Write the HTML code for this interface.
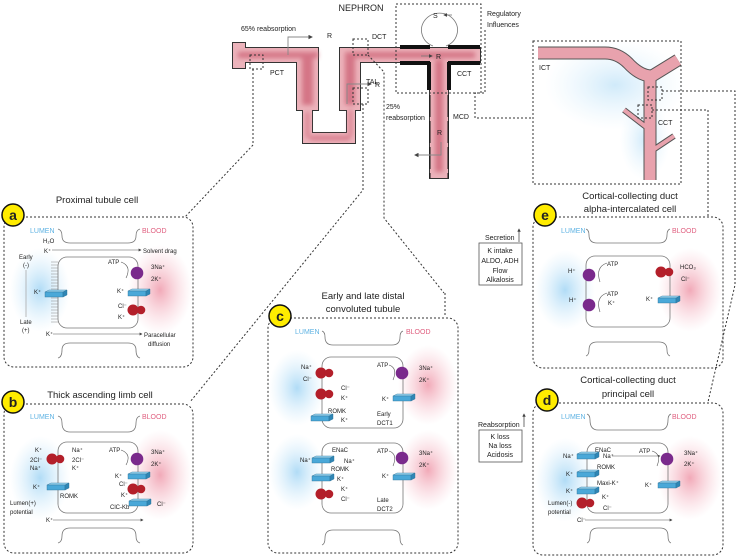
<!DOCTYPE html>
<html><head><meta charset="utf-8"><style>
html,body{margin:0;padding:0;background:#fff}
svg{display:block}
text{font-family:"Liberation Sans Narrow","Liberation Sans",sans-serif;fill:#222}
.s{font-size:6px}
.t{font-family:"Liberation Sans",sans-serif;font-size:9.5px}
.lu{font-size:7px;fill:#5fb3e3}
.bl{font-size:7px;fill:#e06080}
.d{fill:none;stroke:#333;stroke-width:1;stroke-dasharray:2 2}
.c{fill:none;stroke:#777;stroke-width:0.8}
.a{fill:none;stroke:#555;stroke-width:0.6}
</style></head><body>
<svg width="738" height="559" viewBox="0 0 738 559" xmlns="http://www.w3.org/2000/svg">
<defs>
<radialGradient id="gb"><stop offset="0" stop-color="#a8d8f5" stop-opacity="0.9"/><stop offset="1" stop-color="#cfeafb" stop-opacity="0"/></radialGradient>
<radialGradient id="gr"><stop offset="0" stop-color="#f0a0b0" stop-opacity="0.9"/><stop offset="1" stop-color="#f8c8d2" stop-opacity="0"/></radialGradient>
<filter id="bl" x="-50%" y="-50%" width="200%" height="200%"><feGaussianBlur stdDeviation="2.5"/></filter>
<g id="ch"><polygon points="0,2 18,2 22,0 4,0" fill="#9ad6f2" stroke="#2a6f96" stroke-width="0.4"/><rect x="0" y="2" width="18" height="5" fill="#4aa8d8" stroke="#2a6f96" stroke-width="0.4"/><polygon points="18,2 22,0 22,5 18,7" fill="#2f86b5" stroke="#2a6f96" stroke-width="0.4"/></g>
<g id="pu"><circle r="6.3" fill="#7a2a8c"/></g>
<g id="co"><circle cx="0" cy="0" r="5.5" fill="#b31f2a"/><circle cx="8" cy="0" r="4.3" fill="#b31f2a"/></g>
<marker id="ar" markerWidth="5" markerHeight="5" refX="4" refY="2.5" orient="auto"><path d="M0,0 L5,2.5 L0,5z" fill="#444"/></marker>
</defs>

<!-- ===== NEPHRON ===== -->
<text x="361" y="11" class="t" text-anchor="middle" style="font-size:9px">NEPHRON</text>
<g stroke="#333" stroke-width="2" fill="#ecb3bb">
<rect x="233" y="43" width="12" height="25"/><rect x="245" y="48" width="73" height="14"/>
<rect x="297" y="48" width="21" height="62"/><rect x="303" y="110" width="9" height="33"/>
<rect x="303" y="133" width="52" height="10"/><rect x="347" y="105" width="8" height="38"/>
<rect x="340" y="48" width="20" height="62"/><rect x="340" y="48" width="140" height="14"/>
<rect x="430" y="48" width="18" height="130"/>
</g>
<g fill="#ecb3bb">
<rect x="233" y="43" width="12" height="25"/><rect x="245" y="48" width="73" height="14"/>
<rect x="297" y="48" width="21" height="62"/><rect x="303" y="110" width="9" height="33"/>
<rect x="303" y="133" width="52" height="10"/><rect x="347" y="105" width="8" height="38"/>
<rect x="340" y="48" width="20" height="62"/><rect x="340" y="48" width="140" height="14"/>
<rect x="430" y="48" width="18" height="130"/>
</g>
<g fill="#d06a7d" filter="url(#bl)" opacity="0.85">
<rect x="238" y="52" width="80" height="6"/><rect x="302" y="55" width="11" height="50"/>
<rect x="345" y="55" width="10" height="50"/><rect x="345" y="52" width="130" height="6"/>
<rect x="435" y="60" width="8" height="112"/><rect x="306" y="112" width="3" height="26"/><rect x="349" y="110" width="3" height="26"/><rect x="310" y="136" width="40" height="4"/>
</g>
<g fill="#111"><rect x="400" y="45" width="30" height="4"/><rect x="448" y="45" width="32" height="4"/><rect x="400" y="61" width="30" height="4"/><rect x="448" y="61" width="32" height="4"/><rect x="427" y="62" width="4" height="28"/><rect x="447" y="62" width="4" height="28"/></g>
<g stroke="#111" stroke-width="1" stroke-dasharray="22 4"><line x1="430" y1="95" x2="430" y2="178"/><line x1="448" y1="95" x2="448" y2="178"/></g>
<text x="241" y="31" class="s" style="font-size:7px">65% reabsorption</text>
<polyline points="288,55 288,37 312,37" fill="none" stroke="#888" stroke-width="0.9" marker-end="url(#ar)"/>
<text x="327" y="38" class="s" style="font-size:7px">R</text>
<text x="270" y="75" class="s" style="font-size:7px">PCT</text>
<text x="372" y="39" class="s" style="font-size:7px">DCT</text>
<text x="366" y="84" class="s" style="font-size:7px">TAL</text>
<polyline points="347,104 347,84 371,84" fill="none" stroke="#888" stroke-width="0.9" marker-end="url(#ar)"/>
<text x="375" y="87" class="s" style="font-size:7px">R</text>
<text x="386" y="109" class="s" style="font-size:7px">25%</text>
<text x="386" y="120" class="s" style="font-size:7px">reabsorption</text>
<text x="453" y="119" class="s" style="font-size:7px">MCD</text>
<text x="437" y="135" class="s" style="font-size:7px">R</text>
<polyline points="441,142 441,155 415,155" fill="none" stroke="#888" stroke-width="0.9" marker-end="url(#ar)"/>
<rect x="396" y="4" width="85" height="89" class="d"/>
<path d="M433,46 A18,17 0 1 1 446,46" fill="none" stroke="#777" stroke-width="0.8"/>
<line x1="452" y1="15" x2="444" y2="15" stroke="#777" stroke-width="0.8" marker-end="url(#ar)"/>
<text x="433" y="18" class="s" style="font-size:7px">S</text>
<line x1="421" y1="56" x2="432" y2="56" stroke="#777" stroke-width="0.8" marker-end="url(#ar)"/>
<text x="436" y="59" class="s" style="font-size:7px">R</text>
<text x="487" y="16" class="s" style="font-size:7px">Regulatory</text>
<text x="487" y="27" class="s" style="font-size:7px">Influences</text>
<text x="457" y="76" class="s" style="font-size:7px">CCT</text>
<rect x="250" y="55" width="13" height="14" class="d"/>
<rect x="353" y="39" width="15" height="16" class="d"/>
<rect x="353" y="88" width="15" height="16" class="d"/>
<polyline points="253,69 253,145 185,217" class="d"/>
<polyline points="368,55 384,72 384,218 444,293" class="d"/>
<polyline points="363,104 363,190 190,402" class="d"/>
<polyline points="485,30 485,93 475,93 475,118 533,118" class="d"/>

<!-- right nephron box -->
<rect x="533" y="41" width="148" height="143" class="d"/>
<ellipse cx="615" cy="85" rx="70" ry="45" fill="url(#gb)" opacity="0.6"/>
<ellipse cx="645" cy="140" rx="25" ry="40" fill="url(#gb)" opacity="0.6"/>
<g fill="none" stroke-linecap="butt">
<path d="M538,53 L605,53 Q618,53 628,63 Q640,76 652,76 L678,60" stroke="#555" stroke-width="13"/>
<path d="M650,76 L650,180" stroke="#555" stroke-width="13"/>
<path d="M624,110 L650,130 M674,136 L650,152" stroke="#555" stroke-width="6"/>
<path d="M538,53 L605,53 Q618,53 628,63 Q640,76 652,76 L678,60" stroke="#e8a2ad" stroke-width="11"/>
<path d="M650,76 L650,180" stroke="#e8a2ad" stroke-width="11"/>
<path d="M624,110 L650,130 M674,136 L650,152" stroke="#e8a2ad" stroke-width="4"/>
</g>
<text x="539" y="70" class="s" style="font-size:7px">ICT</text>
<text x="658" y="125" class="s" style="font-size:7px">CCT</text>
<rect x="648" y="87" width="14" height="13" class="d"/>
<rect x="638" y="105" width="14" height="13" class="d"/>
<polyline points="662,91 735,91 735,285 708,402" class="d"/>
<polyline points="652,110 708,110 708,217" class="d"/>

<!-- Secretion / Reabsorption -->
<text x="485" y="240" class="s" style="font-size:7px">Secretion</text>
<line x1="519" y1="242" x2="519" y2="229" stroke="#333" stroke-width="0.7" marker-end="url(#ar)"/>
<rect x="479" y="243" width="43" height="42" fill="#fff" stroke="#555" stroke-width="0.8"/>
<g class="s" style="font-size:7px" text-anchor="middle"><text x="500" y="253">K intake</text><text x="500" y="263">ALDO, ADH</text><text x="500" y="273">Flow</text><text x="500" y="282">Alkalosis</text></g>
<text x="478" y="427" class="s" style="font-size:7px">Reabsorption</text>
<line x1="524" y1="427" x2="524" y2="414" stroke="#333" stroke-width="0.7" marker-end="url(#ar)"/>
<rect x="479" y="430" width="43" height="32" fill="#fff" stroke="#555" stroke-width="0.8"/>
<g class="s" style="font-size:7px" text-anchor="middle"><text x="500" y="439">K loss</text><text x="500" y="448">Na loss</text><text x="500" y="457">Acidosis</text></g>

<!-- ===== PANEL A ===== -->
<text x="97" y="203" class="t" text-anchor="middle">Proximal tubule cell</text>
<rect x="4" y="217" width="189" height="150" rx="10" class="d"/>
<ellipse cx="40" cy="290" rx="30" ry="42" fill="url(#gb)"/>
<ellipse cx="160" cy="290" rx="32" ry="45" fill="url(#gr)"/>
<text x="30" y="233" class="lu">LUMEN</text><text x="142" y="233" class="bl">BLOOD</text>
<path d="M58,229 Q62,230 62,236 Q62,243 70,243 L128,243 Q136,243 136,236 Q136,230 140,229" class="c"/>
<rect x="58" y="257" width="80" height="71" rx="9" class="c" fill="#fff"/>
<path d="M58,358 Q62,357 62,350 Q62,343 70,343 L128,343 Q136,343 136,350 Q136,357 140,358" class="c"/>
<g stroke="#888" stroke-width="0.6"><path d="M51,262h7M51,265h7M51,268h7M51,271h7M51,274h7M51,277h7M51,280h7M51,283h7M51,286h7M51,289h7M51,292h7M51,295h7M51,298h7M51,301h7M51,304h7M51,307h7M51,310h7M51,313h7M51,316h7M51,319h7M51,322h7"/></g>
<text x="43" y="243" class="s">H₂O</text><text x="44" y="253" class="s">K⁺</text>
<line x1="52" y1="250" x2="141" y2="250" stroke="#555" stroke-width="0.6" marker-end="url(#ar)"/>
<text x="143" y="253" class="s">Solvent drag</text>
<text x="19" y="259" class="s">Early</text><text x="23" y="267" class="s">(-)</text>
<line x1="26" y1="270" x2="26" y2="317" stroke="#aaa" stroke-width="0.8"/>
<text x="20" y="324" class="s">Late</text><text x="22" y="332" class="s">(+)</text>
<text x="34" y="294" class="s">K⁺</text><use href="#ch" x="45" y="290"/>
<text x="108" y="264" class="s">ATP</text><use href="#pu" x="137" y="273"/>
<path d="M121,262 Q132,266 126,278" class="a"/>
<text x="151" y="269" class="s">3Na⁺</text><text x="151" y="281" class="s">2K⁺</text>
<text x="117" y="293" class="s">K⁺</text><use href="#ch" x="128" y="289"/>
<text x="118" y="308" class="s">Cl⁻</text><text x="118" y="319" class="s">K⁺</text><use href="#co" x="133" y="310"/>
<text x="46" y="336" class="s">K⁺</text>
<line x1="53" y1="334" x2="142" y2="334" stroke="#555" stroke-width="0.6" marker-end="url(#ar)"/>
<text x="144" y="337" class="s">Paracellular</text><text x="148" y="346" class="s">diffusion</text>
<circle cx="13" cy="215" r="11" fill="#ffec00" stroke="#111" stroke-width="1.5"/>
<text x="13" y="220" text-anchor="middle" style="font-family:'Liberation Sans';font-weight:bold;font-size:14px">a</text>

<!-- ===== PANEL B ===== -->
<text x="100" y="398" class="t" text-anchor="middle">Thick ascending limb cell</text>
<rect x="4" y="404" width="189" height="149" rx="10" class="d"/>
<ellipse cx="40" cy="478" rx="30" ry="42" fill="url(#gb)"/>
<ellipse cx="160" cy="475" rx="32" ry="45" fill="url(#gr)"/>
<text x="30" y="419" class="lu">LUMEN</text><text x="142" y="419" class="bl">BLOOD</text>
<path d="M58,416 Q62,417 62,423 Q62,432 70,432 L128,432 Q136,432 136,423 Q136,417 140,416" class="c"/>
<rect x="58" y="442" width="80" height="71" rx="9" class="c" fill="#fff"/>
<path d="M58,543 Q62,542 62,536 Q62,528 70,528 L128,528 Q136,528 136,536 Q136,542 140,543" class="c"/>
<text x="35" y="452" class="s">K⁺</text><text x="30" y="462" class="s">2Cl⁻</text><text x="30" y="470" class="s">Na⁺</text>
<use href="#co" x="52" y="459"/>
<text x="72" y="452" class="s">Na⁺</text><text x="72" y="462" class="s">2Cl⁻</text><text x="72" y="470" class="s">K⁺</text>
<text x="33" y="489" class="s">K⁺</text><use href="#ch" x="47" y="483"/><text x="60" y="498" class="s">ROMK</text>
<text x="10" y="505" class="s">Lumen(+)</text><text x="10" y="514" class="s">potential</text>
<text x="46" y="522" class="s">K⁺</text>
<line x1="53" y1="520" x2="143" y2="520" stroke="#555" stroke-width="0.6" marker-end="url(#ar)"/>
<text x="109" y="452" class="s">ATP</text><use href="#pu" x="137" y="459"/>
<path d="M121,450 Q132,454 126,465" class="a"/>
<text x="151" y="454" class="s">3Na⁺</text><text x="151" y="466" class="s">2K⁺</text>
<text x="115" y="478" class="s">K⁺</text><use href="#ch" x="128" y="472"/>
<text x="119" y="486" class="s">Cl⁻</text><text x="121" y="497" class="s">K⁺</text><use href="#co" x="133" y="489"/>
<use href="#ch" x="129" y="499"/><text x="157" y="506" class="s">Cl⁻</text>
<text x="110" y="509" class="s">ClC-Kb</text>
<circle cx="13" cy="402" r="11" fill="#ffec00" stroke="#111" stroke-width="1.5"/>
<text x="13" y="407" text-anchor="middle" style="font-family:'Liberation Sans';font-weight:bold;font-size:14px">b</text>

<!-- ===== PANEL C ===== -->
<text x="363" y="299" class="t" text-anchor="middle">Early and late distal</text>
<text x="363" y="312" class="t" text-anchor="middle">convoluted tubule</text>
<rect x="268" y="318" width="190" height="235" rx="10" class="d"/>
<line x1="445" y1="293" x2="445" y2="316" class="d"/>
<ellipse cx="297" cy="388" rx="28" ry="38" fill="url(#gb)"/><ellipse cx="297" cy="472" rx="28" ry="38" fill="url(#gb)"/>
<ellipse cx="428" cy="385" rx="30" ry="40" fill="url(#gr)"/><ellipse cx="428" cy="470" rx="30" ry="40" fill="url(#gr)"/>
<text x="295" y="334" class="lu">LUMEN</text><text x="406" y="334" class="bl">BLOOD</text>
<path d="M322,331 Q325,332 325,337 Q325,345 333,345 L392,345 Q400,345 400,337 Q400,332 403,331" class="c"/>
<rect x="322" y="357" width="81" height="71" rx="9" class="c" fill="#fff"/>
<rect x="322" y="443" width="81" height="70" rx="9" class="c" fill="#fff"/>
<path d="M322,545 Q325,544 325,538 Q325,530 333,530 L392,530 Q400,530 400,538 Q400,544 403,545" class="c"/>
<text x="301" y="369" class="s">Na⁺</text><text x="303" y="381" class="s">Cl⁻</text><use href="#co" x="321" y="373"/>
<text x="341" y="390" class="s">Cl⁻</text><text x="341" y="400" class="s">K⁺</text><use href="#co" x="321" y="394"/>
<text x="328" y="413" class="s">ROMK</text><use href="#ch" x="311" y="414"/><text x="341" y="422" class="s">K⁺</text>
<text x="377" y="416" class="s">Early</text><text x="377" y="425" class="s">DCT1</text>
<text x="377" y="367" class="s">ATP</text><use href="#pu" x="402" y="373"/><path d="M389,365 Q398,368 393,380" class="a"/>
<text x="419" y="370" class="s">3Na⁺</text><text x="419" y="382" class="s">2K⁺</text>
<text x="382" y="401" class="s">K⁺</text><use href="#ch" x="393" y="394"/>
<text x="332" y="452" class="s">ENaC</text><text x="300" y="462" class="s">Na⁺</text><use href="#ch" x="312" y="456"/><text x="344" y="463" class="s">Na⁺</text>
<text x="331" y="471" class="s">ROMK</text><use href="#ch" x="312" y="474"/><text x="337" y="481" class="s">K⁺</text>
<text x="341" y="491" class="s">K⁺</text><text x="341" y="501" class="s">Cl⁻</text><use href="#co" x="321" y="494"/>
<text x="377" y="502" class="s">Late</text><text x="377" y="511" class="s">DCT2</text>
<text x="377" y="453" class="s">ATP</text><use href="#pu" x="402" y="458"/><path d="M389,451 Q398,454 393,466" class="a"/>
<text x="419" y="455" class="s">3Na⁺</text><text x="419" y="467" class="s">2K⁺</text>
<text x="382" y="478" class="s">K⁺</text><use href="#ch" x="393" y="473"/>
<circle cx="280" cy="316" r="11" fill="#ffec00" stroke="#111" stroke-width="1.5"/>
<text x="280" y="321" text-anchor="middle" style="font-family:'Liberation Sans';font-weight:bold;font-size:14px">c</text>

<!-- ===== PANEL E ===== -->
<text x="630" y="199" class="t" text-anchor="middle">Cortical-collecting duct</text>
<text x="630" y="212" class="t" text-anchor="middle">alpha-intercalated cell</text>
<rect x="533" y="217" width="190" height="151" rx="10" class="d"/>
<ellipse cx="565" cy="290" rx="30" ry="40" fill="url(#gb)"/>
<ellipse cx="690" cy="290" rx="32" ry="42" fill="url(#gr)"/>
<text x="561" y="233" class="lu">LUMEN</text><text x="672" y="233" class="bl">BLOOD</text>
<path d="M586,229 Q589,230 589,235 Q589,243 597,243 L659,243 Q667,243 667,235 Q667,230 670,229" class="c"/>
<rect x="586" y="256" width="84" height="71" rx="9" class="c" fill="#fff"/>
<path d="M586,356 Q589,355 589,350 Q589,342 597,342 L659,342 Q667,342 667,350 Q667,355 670,356" class="c"/>
<text x="568" y="273" class="s">H⁺</text><use href="#pu" x="589" y="275"/><path d="M607,263 Q595,267 600,282" class="a"/>
<text x="607" y="266" class="s">ATP</text>
<text x="569" y="302" class="s">H⁺</text><use href="#pu" x="589" y="305"/><path d="M607,293 Q595,297 600,312" class="a"/>
<text x="607" y="296" class="s">ATP</text><text x="608" y="305" class="s">K⁺</text>
<use href="#co" x="661" y="272"/><text x="680" y="269" class="s">HCO₃</text><text x="681" y="281" class="s">Cl⁻</text>
<text x="646" y="301" class="s">K⁺</text><use href="#ch" x="658" y="296"/>
<circle cx="545" cy="215" r="11" fill="#ffec00" stroke="#111" stroke-width="1.5"/>
<text x="545" y="220" text-anchor="middle" style="font-family:'Liberation Sans';font-weight:bold;font-size:14px">e</text>

<!-- ===== PANEL D ===== -->
<text x="628" y="383" class="t" text-anchor="middle">Cortical-collecting duct</text>
<text x="628" y="397" class="t" text-anchor="middle">principal cell</text>
<rect x="533" y="403" width="190" height="152" rx="10" class="d"/>
<ellipse cx="565" cy="480" rx="30" ry="42" fill="url(#gb)"/>
<ellipse cx="690" cy="478" rx="32" ry="42" fill="url(#gr)"/>
<text x="561" y="419" class="lu">LUMEN</text><text x="672" y="419" class="bl">BLOOD</text>
<path d="M587,414 Q590,415 590,420 Q590,430 598,430 L660,430 Q668,430 668,420 Q668,415 671,414" class="c"/>
<rect x="587" y="443" width="81" height="70" rx="9" class="c" fill="#fff"/>
<path d="M587,543 Q590,542 590,536 Q590,528 598,528 L660,528 Q668,528 668,536 Q668,542 671,543" class="c"/>
<text x="595" y="452" class="s">ENaC</text><text x="563" y="458" class="s">Na⁺</text><use href="#ch" x="577" y="452"/><text x="603" y="458" class="s">Na⁺</text>
<line x1="612" y1="456" x2="660" y2="456" stroke="#555" stroke-width="0.5" marker-end="url(#ar)"/>
<text x="597" y="469" class="s">ROMK</text><text x="566" y="476" class="s">K⁺</text><use href="#ch" x="577" y="470"/>
<text x="597" y="485" class="s">Maxi-K⁺</text><text x="566" y="493" class="s">K⁺</text><use href="#ch" x="577" y="487"/>
<use href="#co" x="582" y="503"/><text x="602" y="499" class="s">K⁺</text><text x="603" y="510" class="s">Cl⁻</text>
<text x="548" y="505" class="s">Lumen(-)</text><text x="548" y="514" class="s">potential</text>
<text x="577" y="522" class="s">Cl⁻</text>
<line x1="585" y1="520" x2="672" y2="520" stroke="#555" stroke-width="0.6" marker-end="url(#ar)"/>
<text x="639" y="453" class="s">ATP</text><use href="#pu" x="667" y="459"/><path d="M652,451 Q662,454 657,466" class="a"/>
<text x="684" y="455" class="s">3Na⁺</text><text x="684" y="466" class="s">2K⁺</text>
<text x="645" y="487" class="s">K⁺</text><use href="#ch" x="658" y="481"/>
<circle cx="547" cy="400" r="11" fill="#ffec00" stroke="#111" stroke-width="1.5"/>
<text x="547" y="405" text-anchor="middle" style="font-family:'Liberation Sans';font-weight:bold;font-size:14px">d</text>
</svg>
</body></html>
